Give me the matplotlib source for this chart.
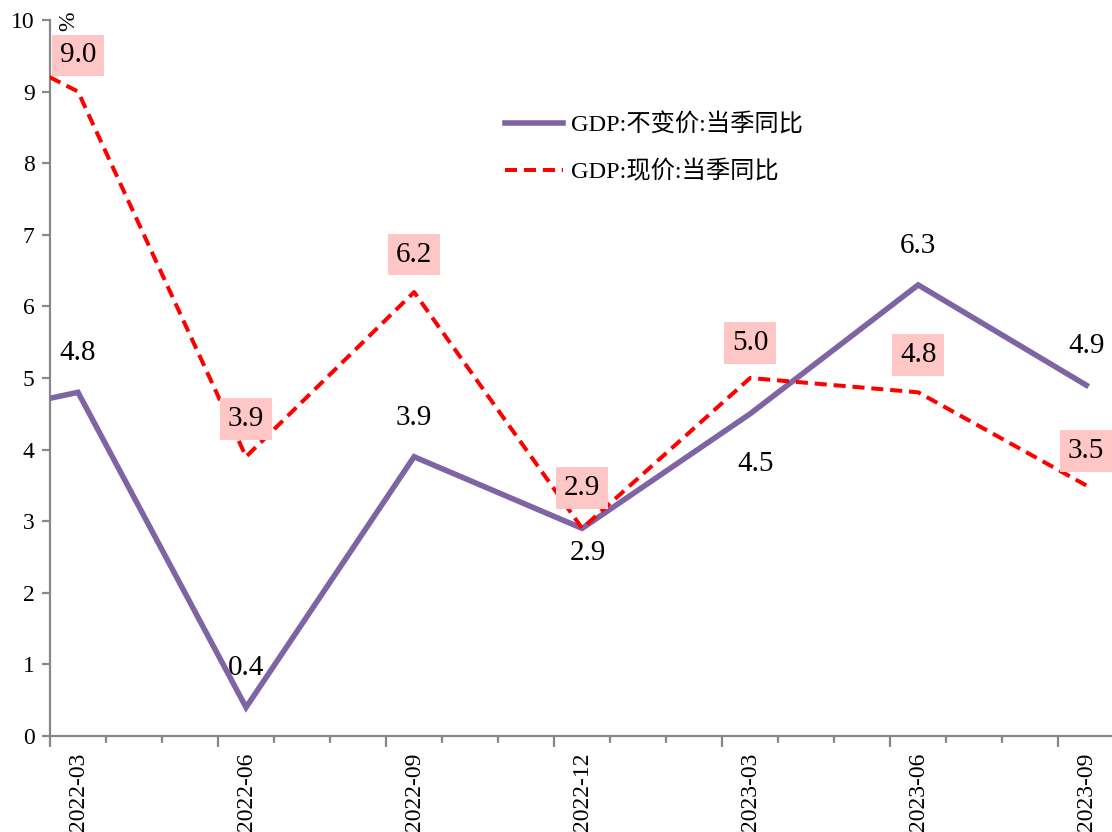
import matplotlib
matplotlib.use("Agg")
import matplotlib.pyplot as plt
from matplotlib.ticker import FixedLocator
import numpy as np

# ---- data ----
quarters = ['2021-12', '2022-03', '2022-06', '2022-09', '2022-12', '2023-03', '2023-06', '2023-09']
gdp_real = [4.3, 4.8, 0.4, 3.9, 2.9, 4.5, 6.3, 4.9]
gdp_nominal = [10.2, 9.0, 3.9, 6.2, 2.9, 5.0, 4.8, 3.5]
tick_labels = ['2022-03', '2022-06', '2022-09', '2022-12', '2023-03', '2023-06', '2023-09']
series_names = ['GDP:不变价:当季同比', 'GDP:现价:当季同比']
y_ticks = [0, 1, 2, 3, 4, 5, 6, 7, 8, 9, 10]

# label placement (points offset from data point); style only
real_label_offsets = [None, 28, 28, 28, -18, -36, 28, 28]
nom_label_offsets = [None, 26, 27, 27, 29, 25, 27, 25]

plt.rcParams['font.family'] = ['Liberation Serif', 'Noto Sans CJK SC', 'DejaVu Sans']

def month_pos(s):
    y, m = s.split('-')
    return (int(y) - 2022) * 12 + (int(m) - 3)

x = np.array([month_pos(q) for q in quarters]) + 0.5
tick_x = np.array([month_pos(t) for t in tick_labels])

fig = plt.figure(figsize=(11.12, 8.32), dpi=100)
ax = fig.add_axes([50 / 1112, 96 / 832, 1 - 50 / 1112, 716 / 832])

purple = '#7F64A3'
red = '#FF0000'
ax.plot(x, gdp_real, color=purple, lw=4.0, solid_joinstyle='miter', label=series_names[0], zorder=3)
ax.plot(x, gdp_nominal, color=red, lw=2.9, ls=(0, (3.0, 1.7)), label=series_names[1], zorder=3)

ax.set_xlim(0, 18.96)
ax.set_ylim(0, 10)

spine_c = '#888888'
for s in ['top', 'right']:
    ax.spines[s].set_visible(False)
for s in ['left', 'bottom']:
    ax.spines[s].set_color(spine_c)
    ax.spines[s].set_linewidth(1.6)

ax.set_yticks(y_ticks)
ax.set_yticklabels([str(v) for v in y_ticks])
ax.tick_params(axis='y', length=6, width=1.6, color=spine_c, labelsize=17, pad=5, direction='out')

# x ticks: monthly minor, quarterly major (longer), labels at data positions
ax.xaxis.set_major_locator(FixedLocator(tick_x))
ax.xaxis.set_minor_locator(FixedLocator(np.arange(0, 19)))
ax.tick_params(axis='x', which='major', length=8, width=1.6, color=spine_c, labelbottom=False)
ax.tick_params(axis='x', which='minor', length=5, width=1.6, color=spine_c)

sec = ax.secondary_xaxis('bottom')
sec.set_xticks(tick_x + 0.5)
sec.set_xticklabels(tick_labels, rotation=90, fontsize=17)
sec.tick_params(length=0, pad=12)
sec.spines['bottom'].set_visible(False)

# data labels
for xi, v, off in zip(x, gdp_real, real_label_offsets):
    if off is None:
        continue
    dx = 4 if off < 0 else 0
    ax.annotate(f'{v:.1f}', (xi, v), xytext=(dx, off), textcoords='offset points',
                ha='center', va='center', fontsize=21, zorder=5)
for xi, v, off in zip(x, gdp_nominal, nom_label_offsets):
    if off is None:
        continue
    ax.annotate(f'{v:.1f}', (xi, v), xytext=(0, off), textcoords='offset points',
                ha='center', va='center', fontsize=21, zorder=4,
                bbox=dict(boxstyle='square,pad=0.27', fc='#FFC6C6', ec='none'))

ax.text(0.018, 0.998, '%', transform=ax.transAxes, rotation=90, ha='center', va='center', fontsize=17)

leg = ax.legend(loc='upper left', bbox_to_anchor=(0.428, 0.87), frameon=False, fontsize=17.5,
                handlelength=2.4, handletextpad=0.35, labelspacing=1.0, borderpad=0, borderaxespad=0)

fig.savefig('out.png', dpi=100)
